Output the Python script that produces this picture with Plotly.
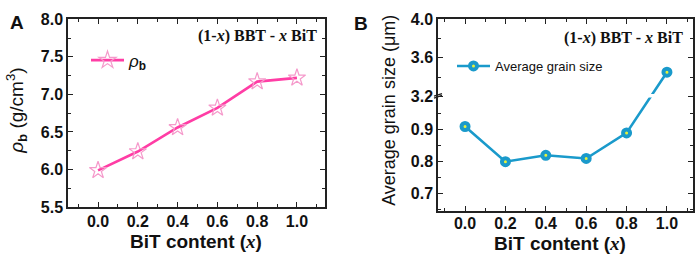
import plotly.graph_objects as go

# ---------------- data ----------------
bit_content = [0.0, 0.2, 0.4, 0.6, 0.8, 1.0]
density = [5.99, 6.24, 6.56, 6.82, 7.17, 7.22]
grain_size = [0.91, 0.80, 0.82, 0.81, 0.89, 3.45]

x_ticks = [0.0, 0.2, 0.4, 0.6, 0.8, 1.0]
x_tick_text = ["0.0", "0.2", "0.4", "0.6", "0.8", "1.0"]
a_y_ticks = [5.5, 6.0, 6.5, 7.0, 7.5, 8.0]
b_y_ticks_low = [0.7, 0.8, 0.9]
b_y_ticks_high = [3.2, 3.6, 4.0]
b_y_minor_low = [0.65, 0.75, 0.85, 0.95]
b_y_minor_high = [3.4, 3.8]

# broken axis for panel B: lower segment linear in value, upper segment compressed
BREAK_LOW = 1.0      # top of lower segment (value)
BREAK_HIGH = 3.2     # bottom of upper segment (value)
BREAK_POS = 1.005    # display position of the break
UPPER_SCALE = 0.299  # display units per value unit in the upper segment


def brk(v):
    if v <= BREAK_LOW:
        return v
    return BREAK_POS + (v - BREAK_HIGH) * UPPER_SCALE


W, H = 699, 262
def px(x):
    return x / W
def py(y):
    return 1 - y / H

PINK = "#FF3DA5"
PINK_M = "#F59ACB"
BLUE = "#1A9ACB"
YEL = "#E8F23A"
AX = "#222222"
TICKF = dict(family="Liberation Sans, Arial", size=16, color="#111111")

fig = go.Figure()

fig.add_trace(go.Scatter(
    x=bit_content, y=density, mode="lines+markers",
    name="<i>ρ</i><sub><b>b</b></sub>",
    line=dict(color=PINK, width=2.6),
    marker=dict(symbol="star-open", size=13, color=PINK_M, line=dict(width=1.2, color=PINK_M)),
    xaxis="x", yaxis="y", legend="legend",
))

fig.add_trace(go.Scatter(
    x=bit_content, y=[brk(v) for v in grain_size], mode="lines+markers",
    name="Average grain size",
    line=dict(color=BLUE, width=2.6),
    marker=dict(symbol="circle", size=7, color=YEL, line=dict(width=4, color=BLUE)),
    xaxis="x2", yaxis="y2", legend="legend2",
))

common_x = dict(
    showline=True, linecolor=AX, linewidth=1.5, mirror="allticks",
    ticks="inside", ticklen=5, tickwidth=1.3, tickcolor=AX,
    tickmode="array", tickvals=x_ticks, ticktext=["<b>%s</b>" % t for t in x_tick_text],
    tickfont=TICKF, showgrid=False, zeroline=False,
    minor=dict(ticks="inside", ticklen=3, tickwidth=1.2, tickcolor=AX,
               tickmode="array", tickvals=[-0.1, 0.1, 0.3, 0.5, 0.7, 0.9, 1.1]),
)
common_y = dict(
    showline=True, linecolor=AX, linewidth=1.5, mirror="allticks",
    ticks="inside", ticklen=5, tickwidth=1.3, tickcolor=AX,
    tickfont=TICKF, showgrid=False, zeroline=False,
)

b_ticks = b_y_ticks_low + b_y_ticks_high
fig.update_layout(
    width=W, height=H,
    margin=dict(l=0, r=0, t=0, b=0),
    paper_bgcolor="white", plot_bgcolor="white",
    showlegend=True,
    xaxis=dict(domain=[px(68), px(325)], range=[-0.151, 1.141], anchor="y",
               ticklabelstandoff=-1, **common_x),
    yaxis=dict(domain=[py(213), py(12)], range=[5.5, 8.0], anchor="x",
               tickmode="array", tickvals=a_y_ticks,
               ticktext=["<b>%.1f</b>" % v for v in a_y_ticks],
               minor=dict(ticks="inside", ticklen=3, tickwidth=1.2, tickcolor=AX,
                          tickmode="array", tickvals=[5.75, 6.25, 6.75, 7.25, 7.75]),
               **common_y),
    xaxis2=dict(domain=[px(438), px(693)], range=[-0.134, 1.129], anchor="y2",
                ticklabelstandoff=-3, **common_x),
    yaxis2=dict(domain=[py(217), py(12)], range=[0.646, 1.2455], anchor="x2",
                tickmode="array", tickvals=[brk(v) for v in b_ticks],
                ticktext=["<b>%.1f</b>" % v for v in b_ticks],
                minor=dict(ticks="inside", ticklen=3, tickwidth=1.2, tickcolor=AX,
                           tickmode="array",
                           tickvals=[brk(v) for v in b_y_minor_low + b_y_minor_high]),
                **common_y),
    legend=dict(x=px(86), y=py(37), xanchor="left", yanchor="top",
                bgcolor="rgba(0,0,0,0)", borderwidth=0,
                font=dict(family="Liberation Sans, Arial", size=17, color="#111"),
                itemwidth=33, tracegroupgap=0),
    legend2=dict(x=px(452), y=py(46), xanchor="left", yanchor="top",
                 bgcolor="rgba(0,0,0,0)", borderwidth=0,
                 font=dict(family="Liberation Sans, Arial", size=13, color="#111"),
                 itemwidth=33),
)

ann_font_t = dict(family="Liberation Serif, Times New Roman", size=16, color="#111")
title_font = dict(family="Liberation Sans, Arial", size=19, color="#111")
annotations = [
    dict(x=px(319), y=py(30), text="<b>(1-<i>x</i>) BBT - <i>x</i> BiT</b>", font=ann_font_t,
         xanchor="right", yanchor="middle"),
    dict(x=px(685), y=py(32), text="<b>(1-<i>x</i>) BBT - <i>x</i> BiT</b>", font=ann_font_t,
         xanchor="right", yanchor="middle"),
    dict(x=px(196), y=py(250), text="<b>BiT content (<span style='font-family:Liberation Serif'><i>x</i></span>)</b>",
         font=title_font, xanchor="center", yanchor="middle"),
    dict(x=px(560), y=py(251.5), text="<b>BiT content (<span style='font-family:Liberation Serif'><i>x</i></span>)</b>",
         font=title_font, xanchor="center", yanchor="middle"),
    dict(x=px(17), y=py(110), text="<i>ρ</i><sub><b>b</b></sub> (g/cm<sup>3</sup>)", textangle=-90,
         font=dict(family="Liberation Sans, Arial", size=19, color="#111"), xanchor="center", yanchor="middle"),
    dict(x=px(389), y=py(110), text="Average grain size (μm)", textangle=-90,
         font=dict(family="Liberation Sans, Arial", size=18, color="#111"), xanchor="center", yanchor="middle"),
    dict(x=px(17), y=py(16), text="<b>A</b>", font=dict(family="Liberation Sans, Arial", size=19, color="#111"),
         xanchor="center", yanchor="middle"),
    dict(x=px(361), y=py(17), text="<b>B</b>", font=dict(family="Liberation Sans, Arial", size=19, color="#111"),
         xanchor="center", yanchor="middle"),
]
for a in annotations:
    a.update(xref="paper", yref="paper", showarrow=False)
fig.update_layout(annotations=annotations)

# axis-break decorations (gap in the data line and // mark on the left axis)
yb = BREAK_POS
shapes = [
    dict(type="rect", xref="x2", yref="y2", x0=-0.10, x1=1.10, y0=yb - 0.004, y1=yb + 0.007,
         fillcolor="white", line=dict(width=0), layer="above"),
    dict(type="line", xref="paper", yref="y2", x0=px(434), x1=px(442), y0=yb - 0.006, y1=yb + 0.002,
         line=dict(color=AX, width=1.3), layer="above"),
    dict(type="line", xref="paper", yref="y2", x0=px(434), x1=px(442), y0=yb + 0.000, y1=yb + 0.008,
         line=dict(color=AX, width=1.3), layer="above"),
]
fig.update_layout(shapes=shapes)

post = (
    "var s=document.documentElement.style;s.margin='0';s.padding='0';s.overflow='hidden';"
    "var b=document.body.style;b.margin='0';b.padding='0';b.overflow='hidden';"
)
fig.write_html("out.html", config={"displayModeBar": False}, post_script=post)
